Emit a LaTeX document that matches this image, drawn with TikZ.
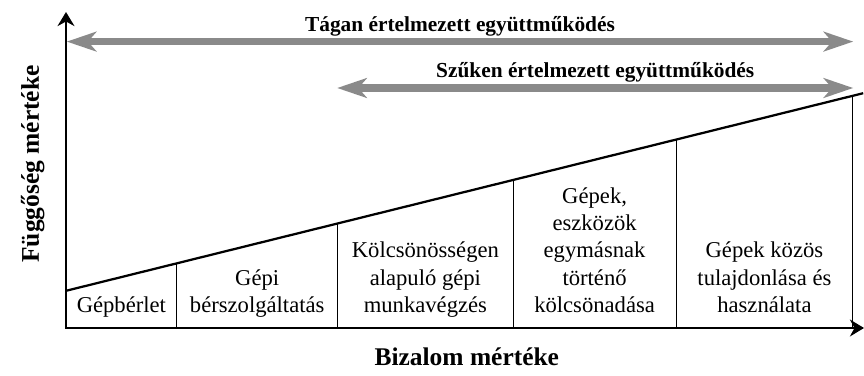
\documentclass[tikz,border=0pt]{standalone}
\usepackage{fontspec}
\setmainfont{Liberation Serif}
\usetikzlibrary{arrows.meta,calc}
\definecolor{arrowgray}{RGB}{138,138,138}
\tikzset {
  >=Stealth,
  every node/.style={font=\fontsize{16.1}{19.5}\selectfont},
  cell/.style={anchor=south,align=center,inner sep=0pt,execute at end node=\strut},
  rangearrow/.style={arrowgray,line width=5pt,
    {Stealth[length=21pt,width=14pt,inset=6pt]}-{Stealth[length=21pt,width=14pt,inset=6pt]}},
  rangelabel/.style={anchor=base,yshift=0.26cm,black,
    font=\fontsize{15.2}{18}\selectfont\bfseries},
  axislabel/.style={font=\fontsize{18.1}{21}\selectfont\bfseries},
}

\begin{document}
\begin{tikzpicture}
          \useasboundingbox (-1.65,-1.175) rectangle (19.95,8.2);
          % axes
          \draw[line width=2pt,{Stealth[length=10pt,width=12pt]}-{Stealth[length=10pt,width=12pt]}]
            (0,7.9) -- (0,0) -- (19.95,0);
          \node[axislabel,anchor=base] (trust) at (10.02,-0.925) {Bizalom mértéke};
          \node[axislabel,rotate=90] (dependence) at (-0.83,4.1) {Függőség mértéke};
          % ranges
          \draw[rangearrow] (0.02,7.16) -- (19.68,7.16)
            node[midway,rangelabel] (wide) {Tágan értelmezett együttműködés};
          \draw[rangearrow] (6.78,6.0) -- (19.68,6.0)
            node[midway,rangelabel] (narrow) {Szűken értelmezett együttműködés};
          % rising line and cells
          \draw[line width=1.6pt] (0,0.93) -- (19.93,5.87);
          \foreach \x in {2.77,6.79,11.18,15.25,19.67}
            \draw[line width=0.7pt] (\x,0) -- (\x,{0.93+0.2477*\x});
          \node[cell] (hire) at (1.385,0.17) {Gépbérlet};
          \node[cell] (service) at (4.78,0.17) {Gépi\\bérszolgáltatás};
          \node[cell] (mutual) at (8.985,0.17) {Kölcsönösségen\\alapuló gépi\\munkavégzés};
          \node[cell] (lending) at (13.215,0.17) {Gépek,\\eszközök\\egymásnak\\történő\\kölcsönadása};
          \node[cell] (shared) at (17.46,0.17) {Gépek közös\\tulajdonlása és\\használata};
        \end{tikzpicture}
\end{document}
